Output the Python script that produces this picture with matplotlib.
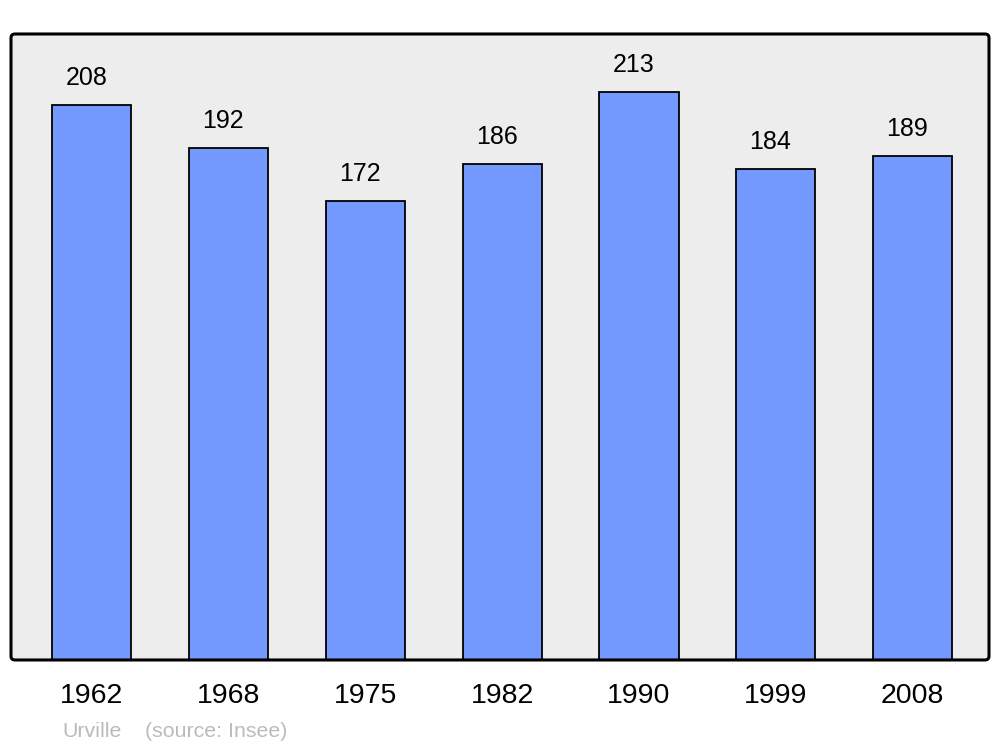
import matplotlib
matplotlib.use("Agg")
import matplotlib.pyplot as plt
from matplotlib.patches import FancyBboxPatch

years = ["1962", "1968", "1975", "1982", "1990", "1999", "2008"]
population = [208, 192, 172, 186, 213, 184, 189]

plt.rcParams['font.family'] = ['Liberation Sans', 'DejaVu Sans']

fig = plt.figure(figsize=(10, 7.47), dpi=100)
ax = fig.add_axes([0.011, 0.1165, 0.978, 0.838])
ax.set_facecolor('none')
for s in ax.spines.values():
    s.set_visible(False)

bg = FancyBboxPatch((0, 0), 1, 1, boxstyle="round,pad=0,rounding_size=0.004",
                    mutation_aspect=978/626, transform=ax.transAxes,
                    facecolor='#EDEDED', edgecolor='none', zorder=0, clip_on=False)
ax.add_patch(bg)
fr = FancyBboxPatch((0, 0), 1, 1, boxstyle="round,pad=0,rounding_size=0.004",
                    mutation_aspect=978/626, transform=ax.transAxes,
                    facecolor='none', edgecolor='black', linewidth=2.2, zorder=5, clip_on=False)
ax.add_patch(fr)

x = list(range(len(years)))
ax.bar(x, population, width=0.578, color='#7399FF', edgecolor='black', linewidth=1.3, zorder=2)

for xi, v in zip(x, population):
    ax.annotate(str(v), (xi, v), xytext=(-4, 10.5), textcoords='offset points',
                ha='center', va='bottom', fontsize=18, color='black')

ax.set_xlim(-0.592, 6.559)
ax.set_ylim(0, 234.6)
ax.set_yticks([])
ax.set_xticks(x)
ax.set_xticklabels(years, fontsize=20.5)
ax.tick_params(axis='x', length=0, pad=16.5)

fig.text(0.062, 0.0134, "Urville", fontsize=15.4, color='#BBBBBB', ha='left', va='baseline')
fig.text(0.145, 0.0134, "(source: Insee)", fontsize=15.4, color='#BBBBBB', ha='left', va='baseline')

fig.savefig("out.png", dpi=100)
